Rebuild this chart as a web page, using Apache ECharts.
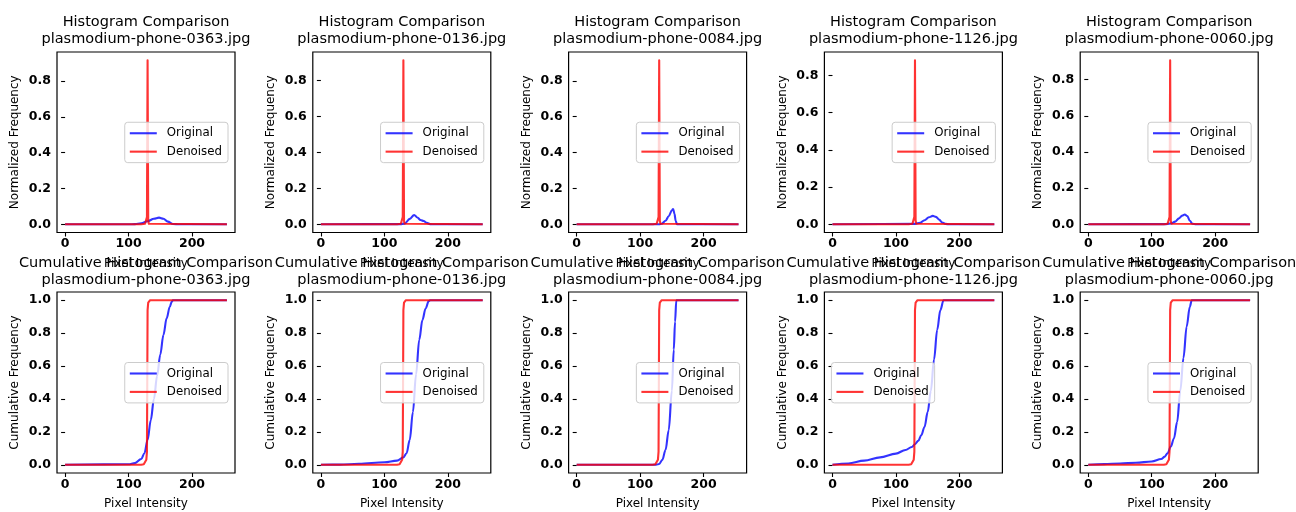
<!DOCTYPE html>
<html>
<head>
<meta charset="utf-8">
<script src="https://cdn.jsdelivr.net/npm/echarts@6/dist/echarts.min.js"></script>
<style>
  html, body { margin: 0; padding: 0; background: #fff; }
  #chart { width: 1296px; height: 512px; }
</style>
</head>
<body>
<div id="chart"></div>
<script>
const imageNames = ['plasmodium-phone-0363.jpg', 'plasmodium-phone-0136.jpg', 'plasmodium-phone-0084.jpg', 'plasmodium-phone-1126.jpg', 'plasmodium-phone-0060.jpg'];
const xTicks = [0, 100, 200];
const histTicks = [0, 0.2, 0.4, 0.6, 0.8];
const cumTicks = [0, 0.2, 0.4, 0.6, 0.8, 1.0];
const cumLegendSide = ['right', 'right', 'right', 'left', 'right'];

// [pixel intensity, normalized frequency]
const origHist0363 = [[0, 0], [100, 0], [110, 0.001], [120, 0.006], [130, 0.017], [140, 0.031], [148, 0.037], [155, 0.031], [162, 0.015], [170, 0.002], [180, 0], [255, 0]];
const denHist0363 = [[0, 0], [120, 0], [126, 0.003], [128, 0.012], [129, 0.04], [130, 0.916], [131, 0.02], [132, 0.003], [134, 0], [255, 0]];
const origHist0136 = [[0, 0], [125, 0.001], [132, 0.004], [140, 0.03], [147, 0.052], [152, 0.038], [157, 0.024], [162, 0.018], [167, 0.008], [172, 0.001], [180, 0], [255, 0]];
const denHist0136 = [[0, 0], [120, 0], [126, 0.003], [128, 0.012], [129, 0.04], [130, 0.912], [131, 0.02], [132, 0.003], [134, 0], [255, 0]];
const origHist0084 = [[0, 0], [130, 0], [134, 0.003], [140, 0.02], [145, 0.045], [150, 0.078], [152, 0.085], [154, 0.06], [156, 0.02], [158, 0], [255, 0]];
const denHist0084 = [[0, 0], [120, 0], [126, 0.003], [128, 0.012], [129, 0.04], [130, 0.915], [131, 0.02], [132, 0.003], [134, 0], [255, 0]];
const origHist1126 = [[0, 0], [130, 0.002], [138, 0.008], [145, 0.022], [152, 0.038], [158, 0.045], [163, 0.04], [168, 0.025], [173, 0.01], [178, 0.002], [185, 0], [255, 0]];
const denHist1126 = [[0, 0], [120, 0], [126, 0.003], [128, 0.012], [129, 0.04], [130, 0.882], [131, 0.02], [132, 0.003], [134, 0], [255, 0]];
const origHist0060 = [[0, 0], [120, 0.001], [130, 0.004], [137, 0.015], [143, 0.033], [148, 0.048], [152, 0.054], [156, 0.045], [160, 0.02], [164, 0.003], [170, 0], [255, 0]];
const denHist0060 = [[0, 0], [119, 0], [125, 0.003], [127, 0.012], [128, 0.04], [129, 0.908], [130, 0.02], [131, 0.003], [133, 0], [255, 0]];

// [pixel intensity, cumulative frequency]
const origCum0363 = [[0, 0], [100, 0.003], [110, 0.01], [120, 0.035], [125, 0.07], [130, 0.15], [135, 0.27], [140, 0.4], [145, 0.54], [150, 0.67], [155, 0.79], [160, 0.89], [165, 0.96], [168, 0.99], [170, 1], [255, 1]];
const denCum0363 = [[0, 0], [120, 0], [124, 0.003], [126, 0.01], [128, 0.03], [129, 0.08], [130, 0.94], [131, 0.985], [132, 0.997], [134, 1], [255, 1]];
const origCum0136 = [[0, 0], [30, 0.001], [60, 0.006], [100, 0.015], [120, 0.025], [130, 0.045], [135, 0.07], [140, 0.15], [145, 0.32], [150, 0.55], [155, 0.76], [160, 0.88], [165, 0.95], [170, 0.995], [172, 1], [255, 1]];
const denCum0136 = [[0, 0], [120, 0], [124, 0.003], [126, 0.01], [128, 0.03], [129, 0.08], [130, 0.94], [131, 0.985], [132, 0.997], [134, 1], [255, 1]];
const origCum0084 = [[0, 0], [125, 0], [130, 0.005], [135, 0.03], [140, 0.09], [145, 0.21], [150, 0.45], [153, 0.7], [155, 0.87], [157, 1], [255, 1]];
const denCum0084 = [[0, 0], [120, 0], [124, 0.003], [126, 0.01], [128, 0.03], [129, 0.08], [130, 0.94], [131, 0.985], [132, 0.997], [134, 1], [255, 1]];
const origCum1126 = [[0, 0], [25, 0.008], [50, 0.025], [75, 0.045], [100, 0.068], [115, 0.09], [125, 0.108], [130, 0.125], [135, 0.145], [140, 0.18], [145, 0.23], [150, 0.32], [155, 0.45], [160, 0.64], [165, 0.82], [170, 0.94], [175, 1], [255, 1]];
const denCum1126 = [[0, 0], [120, 0], [124, 0.003], [126, 0.01], [128, 0.03], [129, 0.08], [130, 0.94], [131, 0.985], [132, 0.997], [134, 1], [255, 1]];
const origCum0060 = [[0, 0], [25, 0.004], [50, 0.008], [75, 0.012], [100, 0.02], [115, 0.035], [120, 0.048], [125, 0.07], [130, 0.11], [135, 0.16], [140, 0.26], [145, 0.45], [150, 0.65], [155, 0.84], [160, 0.96], [163, 1], [255, 1]];
const denCum0060 = [[0, 0], [119, 0], [123, 0.003], [125, 0.01], [127, 0.03], [128, 0.08], [129, 0.94], [130, 0.985], [131, 0.997], [133, 1], [255, 1]];

const origHists = [origHist0363, origHist0136, origHist0084, origHist1126, origHist0060];
const denHists = [denHist0363, denHist0136, denHist0084, denHist1126, denHist0060];
const origCums = [origCum0363, origCum0136, origCum0084, origCum1126, origCum0060];
const denCums = [denCum0363, denCum0136, denCum0084, denCum1126, denCum0060];

const FONT = 'DejaVu Sans';
const BLUE = 'rgba(0,0,255,0.8)';
const RED = 'rgba(255,0,0,0.8)';
const LINE_W = 2.1;
const boxW = 178;
const rows = [
  { top: 52, height: 180.5, title: 'Histogram Comparison', yName: 'Normalized Frequency', ticks: histTicks, orig: origHists, den: denHists },
  { top: 292, height: 181, title: 'Cumulative Histogram Comparison', yName: 'Cumulative Frequency', ticks: cumTicks, orig: origCums, den: denCums }
];

const grids = [], xAxes = [], yAxes = [], series = [], titles = [], legends = [];

rows.forEach((row, r) => {
  imageNames.forEach((name, c) => {
    const idx = grids.length;
    const left = 57 + c * 255.8;
    grids.push({
      left: left, top: row.top, width: boxW, height: row.height,
      show: true, borderColor: '#000', borderWidth: 1.2, backgroundColor: 'transparent'
    });

    // matplotlib style autoscale: 5% margins on each side
    const ys = row.orig[c].concat(row.den[c]).map(p => p[1]);
    const yMax = Math.max.apply(null, ys);
    const yMin = Math.min.apply(null, ys);
    const span = yMax - yMin;

    xAxes.push({
      type: 'value', gridIndex: idx, min: -12.75, max: 267.75,
      axisLine: { show: false, onZero: false },
      axisTick: { show: true, length: 4, customValues: xTicks, lineStyle: { color: '#000', width: 1.1 } },
      axisLabel: { customValues: xTicks, color: '#000', fontFamily: FONT, fontSize: 12.5, fontWeight: 'bold', margin: 5 },
      splitLine: { show: false },
      name: 'Pixel Intensity', nameLocation: 'middle', nameGap: 25,
      nameTextStyle: { color: '#000', fontFamily: FONT, fontSize: 12 }
    });
    yAxes.push({
      type: 'value', gridIndex: idx, min: yMin - 0.05 * span, max: yMax + 0.05 * span,
      axisLine: { show: false },
      axisTick: { show: true, length: 4, customValues: row.ticks, lineStyle: { color: '#000', width: 1.1 } },
      axisLabel: { customValues: row.ticks, color: '#000', fontFamily: FONT, fontSize: 12.5, fontWeight: 'bold', margin: 6, formatter: v => v.toFixed(1) },
      splitLine: { show: false },
      name: row.yName, nameLocation: 'middle', nameGap: 36,
      nameTextStyle: { color: '#000', fontFamily: FONT, fontSize: 12 }
    });

    series.push({
      name: 'Original', type: 'line', xAxisIndex: idx, yAxisIndex: idx,
      data: row.orig[c], symbol: 'none', smooth: 0.35, smoothMonotone: 'x',
      lineStyle: { color: BLUE, width: LINE_W }, itemStyle: { color: BLUE }
    });
    series.push({
      name: 'Denoised', type: 'line', xAxisIndex: idx, yAxisIndex: idx,
      data: row.den[c], symbol: 'none',
      lineStyle: { color: RED, width: LINE_W, join: 'round' }, itemStyle: { color: RED }
    });

    titles.push({
      text: row.title + '\n' + name,
      left: left + boxW / 2, top: r === 0 ? 13 : 254,
      textAlign: 'center', padding: 0,
      textStyle: { color: '#000', fontFamily: FONT, fontSize: 14.5, fontWeight: 'normal', lineHeight: 17.5 }
    });

    const side = r === 0 ? 'right' : cumLegendSide[c];
    const legend = {
      data: ['Original', 'Denoised'], orient: 'vertical',
      top: row.top + row.height / 2 - 20,
      itemWidth: 27, itemHeight: 12, itemGap: 6.4,
      padding: [5, 6, 5, 4],
      backgroundColor: 'rgba(255,255,255,0.8)', borderColor: '#cccccc', borderWidth: 1, borderRadius: 3,
      selectedMode: false,
      // line-only key, like matplotlib: hide the marker drawn on the legend line
      itemStyle: { opacity: 0 },
      lineStyle: { width: LINE_W },
      textStyle: { color: '#000', fontFamily: FONT, fontSize: 11.8, padding: [0, 0, 0, 5] }
    };
    if (side === 'right') legend.right = 1296 - (left + boxW) + 7;
    else legend.left = left + 7;
    legends.push(legend);
  });
});

const chart = echarts.init(document.getElementById('chart'), null, { renderer: 'canvas' });
chart.setOption({
  animation: false,
  backgroundColor: '#fff',
  title: titles,
  legend: legends,
  grid: grids,
  xAxis: xAxes,
  yAxis: yAxes,
  series: series
});
</script>
</body>
</html>
